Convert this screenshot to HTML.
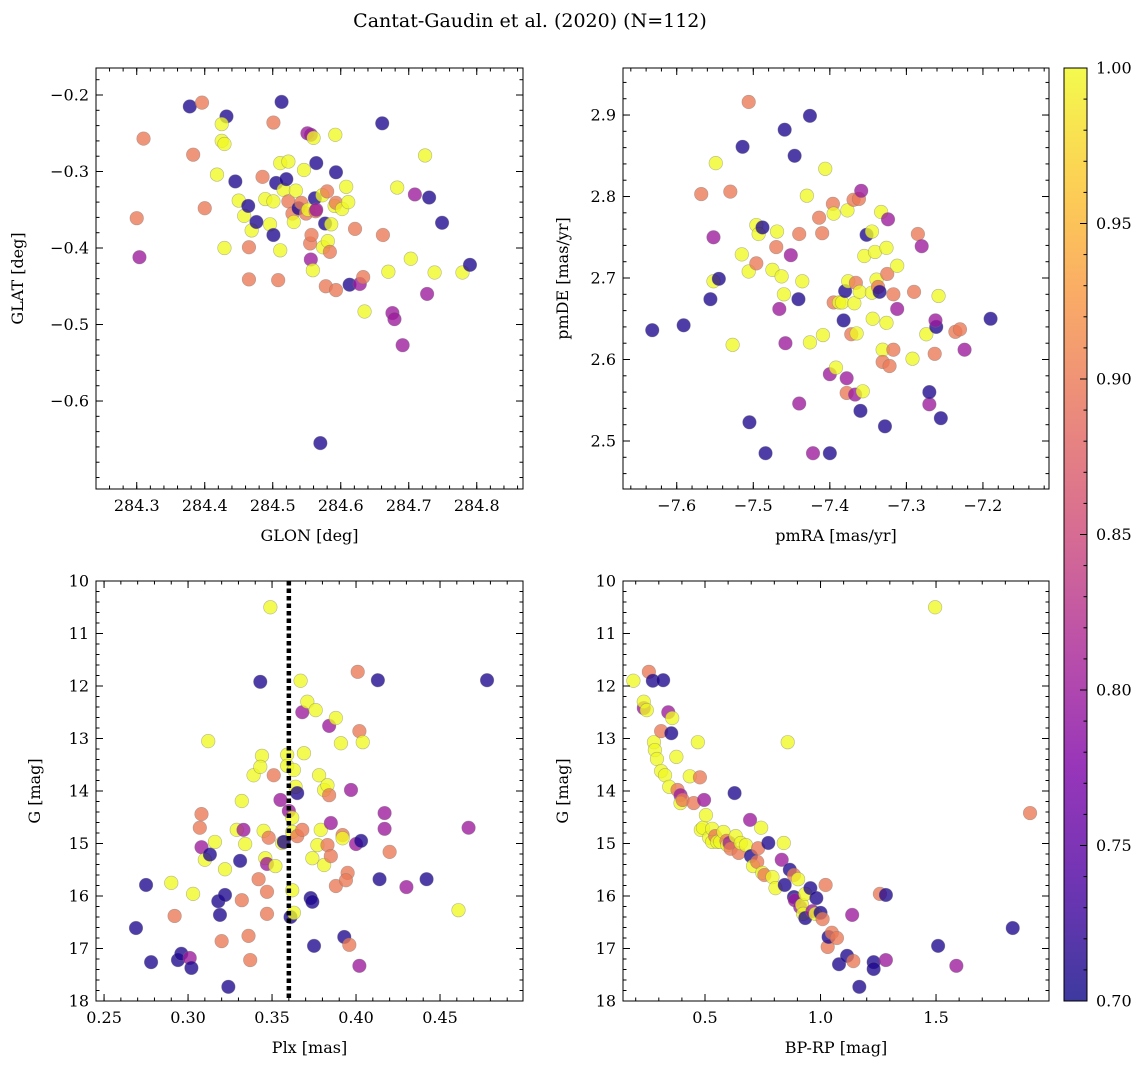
<!DOCTYPE html>
<html><head><meta charset="utf-8">
<style>
body{margin:0;background:#fff;}
svg text{font-family:"DejaVu Serif","Liberation Serif",serif;fill:#000;}
</style></head>
<body>
<svg id="fig" width="1148" height="1068" xmlns="http://www.w3.org/2000/svg">
<text x="530" y="27" font-size="19" text-anchor="middle">Cantat-Gaudin et al. (2020) (N=112)</text>
</svg>
<script>
// Panel 1: GLON / GLAT
const p1Glon=[284.300,284.304,284.310,284.378,284.383,284.396,284.400,284.418,284.425,284.429,284.429,284.432,284.425,284.445,284.450,284.458,284.464,284.465,284.465,284.469,284.476,284.485,284.489,284.496,284.501,284.501,284.501,284.505,284.508,284.511,284.511,284.513,284.516,284.520,284.523,284.523,284.529,284.531,284.534,284.538,284.542,284.546,284.549,284.552,284.555,284.551,284.556,284.556,284.557,284.562,284.563,284.560,284.559,284.564,284.564,284.570,284.573,284.574,284.577,284.578,284.580,284.581,284.584,284.586,284.591,284.592,284.593,284.593,284.593,284.602,284.608,284.611,284.613,284.621,284.628,284.633,284.635,284.662,284.661,284.670,284.676,284.679,284.683,284.691,284.703,284.709,284.724,284.727,284.730,284.738,284.749,284.779,284.790];
const p1Glat=[-0.361,-0.412,-0.257,-0.215,-0.278,-0.210,-0.348,-0.304,-0.260,-0.264,-0.400,-0.228,-0.238,-0.313,-0.338,-0.358,-0.345,-0.441,-0.399,-0.377,-0.366,-0.307,-0.336,-0.369,-0.236,-0.383,-0.339,-0.315,-0.442,-0.289,-0.403,-0.209,-0.324,-0.310,-0.287,-0.339,-0.355,-0.366,-0.325,-0.348,-0.341,-0.298,-0.355,-0.350,-0.394,-0.250,-0.252,-0.415,-0.383,-0.335,-0.352,-0.256,-0.429,-0.350,-0.289,-0.655,-0.331,-0.399,-0.368,-0.450,-0.326,-0.391,-0.405,-0.369,-0.345,-0.252,-0.301,-0.341,-0.455,-0.349,-0.320,-0.340,-0.448,-0.375,-0.447,-0.438,-0.483,-0.383,-0.237,-0.431,-0.485,-0.493,-0.321,-0.527,-0.414,-0.330,-0.279,-0.460,-0.334,-0.432,-0.367,-0.432,-0.422];
const p1Prob=[.9,.8,.9,.71,.9,.9,.9,1,1,1,1,.71,1,.71,1,1,.71,.9,.9,1,.71,.9,1,1,.9,.71,1,.71,.9,1,1,.71,1,.71,1,.9,.9,1,1,.71,.9,1,.9,1,.9,.8,.8,.8,.9,.71,.9,1,1,.8,.71,.71,1,1,.71,.9,.9,1,.9,1,1,1,.71,.9,.9,1,1,1,.71,.9,.8,.9,1,.9,.71,1,.8,.8,1,.8,1,.8,1,.8,.71,1,.71,1,.71];
// Panel 2: pmRA / pmDE
const p2Pmra=[-7.632,-7.591,-7.568,-7.549,-7.552,-7.556,-7.545,-7.552,-7.530,-7.527,-7.514,-7.506,-7.515,-7.506,-7.505,-7.496,-7.493,-7.496,-7.488,-7.484,-7.475,-7.470,-7.469,-7.466,-7.463,-7.460,-7.459,-7.458,-7.451,-7.446,-7.441,-7.440,-7.440,-7.436,-7.430,-7.426,-7.426,-7.422,-7.414,-7.410,-7.409,-7.406,-7.400,-7.400,-7.396,-7.395,-7.395,-7.392,-7.388,-7.384,-7.382,-7.380,-7.378,-7.378,-7.377,-7.376,-7.372,-7.369,-7.368,-7.367,-7.366,-7.365,-7.362,-7.361,-7.360,-7.359,-7.357,-7.355,-7.352,-7.345,-7.345,-7.344,-7.341,-7.339,-7.337,-7.335,-7.333,-7.331,-7.331,-7.328,-7.326,-7.326,-7.325,-7.324,-7.322,-7.317,-7.317,-7.312,-7.312,-7.292,-7.290,-7.285,-7.280,-7.274,-7.270,-7.270,-7.261,-7.263,-7.262,-7.258,-7.255,-7.236,-7.230,-7.224,-7.190];
const p2Pmde=[2.636,2.642,2.803,2.841,2.696,2.674,2.699,2.750,2.806,2.618,2.861,2.916,2.729,2.708,2.523,2.765,2.754,2.718,2.762,2.485,2.710,2.738,2.757,2.662,2.702,2.680,2.882,2.620,2.728,2.850,2.674,2.754,2.546,2.696,2.801,2.899,2.621,2.485,2.774,2.755,2.630,2.834,2.582,2.485,2.791,2.779,2.670,2.590,2.670,2.670,2.648,2.684,2.577,2.559,2.783,2.696,2.631,2.796,2.669,2.557,2.694,2.632,2.797,2.683,2.537,2.807,2.561,2.727,2.753,2.757,2.682,2.650,2.732,2.698,2.689,2.683,2.781,2.612,2.597,2.518,2.737,2.645,2.705,2.772,2.592,2.680,2.612,2.715,2.662,2.601,2.683,2.754,2.739,2.631,2.545,2.560,2.640,2.607,2.648,2.678,2.528,2.634,2.637,2.612,2.650];
const p2Prob=[.71,.71,.9,1,1,.71,.71,.8,.9,1,.71,.9,1,1,.71,1,1,.9,.71,.71,1,.9,1,.8,1,1,.71,.8,.8,.71,.71,.9,.8,1,1,.71,1,.8,.9,.9,1,1,.8,.71,.9,1,.9,1,1,1,.71,.71,.8,.9,1,1,.9,.9,1,.8,.9,1,.9,1,.71,.8,1,1,.71,1,1,1,1,1,.9,.71,1,1,.9,.71,1,1,.9,.8,.9,.9,.9,1,.8,1,.9,.9,.8,1,.8,.71,.71,.9,.8,1,.71,.9,.9,.8,.71];
// Panel 3: Plx / G
const p3Plx=[0.269,0.275,0.278,0.290,0.292,0.294,0.296,0.301,0.302,0.303,0.307,0.308,0.308,0.310,0.312,0.313,0.316,0.318,0.319,0.320,0.322,0.322,0.324,0.329,0.331,0.332,0.332,0.333,0.334,0.336,0.337,0.339,0.342,0.343,0.344,0.343,0.345,0.346,0.347,0.347,0.347,0.348,0.349,0.351,0.352,0.355,0.356,0.357,0.359,0.359,0.360,0.361,0.362,0.362,0.362,0.363,0.363,0.364,0.365,0.365,0.367,0.368,0.368,0.369,0.371,0.373,0.374,0.374,0.375,0.376,0.377,0.378,0.379,0.381,0.381,0.383,0.383,0.384,0.384,0.385,0.385,0.388,0.388,0.391,0.392,0.392,0.393,0.395,0.394,0.396,0.397,0.400,0.401,0.402,0.402,0.403,0.404,0.413,0.414,0.417,0.417,0.420,0.430,0.442,0.461,0.467,0.478];
const p3G=[16.61,15.79,17.26,15.75,16.38,17.22,17.10,17.18,17.37,15.96,14.70,14.44,15.07,15.31,13.05,15.21,14.97,16.10,16.36,16.86,15.49,15.98,17.73,14.74,15.33,14.19,16.08,14.74,15.01,16.76,17.22,13.70,15.68,11.92,13.33,13.54,14.76,15.28,15.92,15.39,16.34,14.89,10.50,13.70,15.43,14.17,14.99,14.97,13.31,13.52,14.38,16.40,15.89,14.78,14.51,16.32,13.60,13.92,14.86,14.04,11.90,12.50,14.74,13.28,12.30,16.04,15.28,16.11,16.95,12.46,15.03,13.70,14.74,13.98,15.41,15.03,13.89,14.08,12.76,14.61,15.24,12.61,15.81,13.09,14.84,14.90,16.78,15.56,15.70,16.93,13.98,15.01,11.73,12.86,17.33,14.95,13.07,11.89,15.68,14.42,14.72,15.16,15.83,15.68,16.27,14.70,11.89];
const p3Prob=[.71,.71,.71,1,.9,.71,.71,.8,.71,1,.9,.9,.8,1,1,.71,1,.71,.71,.9,1,.71,.71,1,.71,1,.9,.8,1,.9,.9,1,.9,.71,1,1,1,1,.9,.8,.9,.9,1,.9,1,.8,1,.71,1,1,.8,.71,1,1,1,1,1,1,.9,.71,1,.8,.9,1,1,.71,1,.71,.71,1,1,1,1,1,1,.9,1,.9,.8,.8,.9,1,.9,1,.9,1,.71,.9,.9,.9,.8,.8,.9,.9,.8,.71,1,.71,.71,.8,.8,.9,.8,.71,1,.8,.71];
const p3Cut=0.360;
// Panel 4: BP-RP / G
const p4Bprp=[0.190,0.235,0.235,0.248,0.257,0.274,0.279,0.283,0.292,0.310,0.310,0.319,0.327,0.341,0.345,0.354,0.358,0.376,0.381,0.394,0.394,0.403,0.434,0.451,0.469,0.478,0.482,0.491,0.496,0.504,0.518,0.531,0.531,0.544,0.553,0.566,0.580,0.593,0.597,0.606,0.611,0.628,0.633,0.646,0.655,0.677,0.695,0.699,0.708,0.726,0.730,0.743,0.748,0.757,0.774,0.792,0.805,0.832,0.841,0.845,0.858,0.867,0.885,0.885,0.889,0.903,0.912,0.920,0.925,0.934,0.934,0.956,0.965,0.978,0.982,1.000,1.009,1.022,1.031,1.035,1.049,1.071,1.080,1.115,1.137,1.142,1.168,1.230,1.230,1.257,1.283,1.283,1.496,1.509,1.588,1.832,1.907];
const p4G=[11.90,12.42,12.30,12.46,11.73,11.90,13.07,13.22,13.39,13.62,12.86,11.89,13.70,12.50,13.92,12.90,12.61,13.35,13.98,14.08,14.23,14.17,13.72,14.23,13.07,13.74,14.74,14.70,14.17,14.46,14.89,14.72,14.97,14.86,14.97,14.97,14.78,14.95,15.03,14.99,15.10,14.04,14.86,15.18,14.99,15.03,14.55,15.24,15.43,15.35,15.09,14.70,15.56,15.60,14.99,15.64,15.85,15.31,14.99,15.79,13.07,15.50,15.60,16.02,16.08,15.68,16.21,16.17,16.34,16.42,15.96,15.85,16.29,16.34,16.04,16.32,16.44,15.79,16.97,16.78,16.70,16.80,17.30,17.14,16.36,17.24,17.73,17.26,17.39,15.96,15.98,17.22,10.50,16.95,17.33,16.61,14.42];
const p4Prob=[1,.8,1,1,.9,.71,1,1,1,1,.9,.71,1,.8,1,.71,1,1,.9,.8,1,.9,1,.9,1,.9,1,1,.8,1,1,1,1,.9,1,1,1,.9,1,.8,.9,.71,1,.9,1,1,.8,.71,1,.9,.9,1,1,.9,.71,1,1,.8,1,.71,1,.71,.9,.71,.8,1,.8,1,1,.71,1,.71,.8,1,.71,.71,.9,.9,.9,.71,.9,.9,.71,.71,.8,.9,.71,.71,.71,.9,.71,.8,1,.71,.8,.71,.9];
const cbTicks=[0.70,0.75,0.80,0.85,0.90,0.95,1.00];

const NS='http://www.w3.org/2000/svg';
const svg=document.getElementById('fig');
function mk(tag,attrs,parent){const e=document.createElementNS(NS,tag);for(const k in attrs)e.setAttribute(k,attrs[k]);(parent||svg).appendChild(e);return e;}
const stops=[[0,13,8,135],[.125,76,2,161],[.25,126,3,168],[.375,169,35,149],[.5,204,71,120],[.625,229,107,93],[.75,248,148,65],[.875,253,195,40],[1,240,249,33]];
function plasma(t){t=Math.max(0,Math.min(1,t));for(let i=1;i<stops.length;i++){if(t<=stops[i][0]){const a=stops[i-1],b=stops[i],f=(t-a[0])/(b[0]-a[0]);return `rgb(${[1,2,3].map(j=>Math.round(a[j]+f*(b[j]-a[j]))).join(',')})`;}}return 'rgb(240,249,33)';}
const cnorm=v=>(v-0.7)/0.3;

function panel(cfg){
  const {name,x0,y0,x1,y1,xd,yd,xt,yt,xfmt,yfmt,xminor,yminor,xlab,ylab,ylabX,invY}=cfg;
  const sx=v=>x0+(v-xd[0])/(xd[1]-xd[0])*(x1-x0);
  const sy=v=>invY? y0+(v-yd[0])/(yd[1]-yd[0])*(y1-y0) : y1-(v-yd[0])/(yd[1]-yd[0])*(y1-y0);
  const g=mk('g',{});
  
  
  const cp=mk('clipPath',{id:name+'-clip'},g);mk('rect',{x:x0,y:y0,width:x1-x0,height:y1-y0},cp);
  const pts=mk('g',{'clip-path':`url(#${name}-clip)`},g);
  
  
  for(let i=0;i<cfg.xs.length;i++){
    const c=mk('circle',{cx:sx(cfg.xs[i]),cy:sy(cfg.ys[i]),r:6.8,fill:plasma(cnorm(cfg.cs[i])),'fill-opacity':0.78,stroke:'#777','stroke-opacity':0.5,'stroke-width':0.6},pts);
    
    
  }
  if(cfg.vline!==undefined){
    const l=mk('line',{x1:sx(cfg.vline),x2:sx(cfg.vline),y1:y0,y2:y1,stroke:'#000','stroke-width':4.5,'stroke-dasharray':'4.5 3'},g);
    
    
  }
  const ax=mk('g',{stroke:'#000','stroke-width':1},g);
  
  
  mk('rect',{x:x0,y:y0,width:x1-x0,height:y1-y0,fill:'none'},ax);
  const inX=v=>v>=Math.min(xd[0],xd[1])-1e-9&&v<=Math.max(xd[0],xd[1])+1e-9;
  const inY=v=>v>=Math.min(yd[0],yd[1])-1e-9&&v<=Math.max(yd[0],yd[1])+1e-9;
  const s0=Math.ceil(xd[0]/xminor),s1=Math.floor(xd[1]/xminor);
  for(let k=s0;k<=s1;k++){const v=k*xminor,X=sx(v);mk('line',{x1:X,x2:X,y1:y1,y2:y1-3.5},ax);mk('line',{x1:X,x2:X,y1:y0,y2:y0+3.5},ax);}
  const t0=Math.ceil(Math.min(yd[0],yd[1])/yminor),t1=Math.floor(Math.max(yd[0],yd[1])/yminor);
  for(let k=t0;k<=t1;k++){const Y=sy(k*yminor);mk('line',{x1:x0,x2:x0+3.5,y1:Y,y2:Y},ax);mk('line',{x1:x1,x2:x1-3.5,y1:Y,y2:Y},ax);}
  xt.forEach(v=>{if(!inX(v))return;const X=sx(v);mk('line',{x1:X,x2:X,y1:y1,y2:y1-7},ax);mk('line',{x1:X,x2:X,y1:y0,y2:y0+7},ax);
    const t=mk('text',{x:X,y:y1+22,'font-size':16,'text-anchor':'middle',stroke:'none'},g);t.textContent=xfmt(v);
    
    });
  yt.forEach(v=>{if(!inY(v))return;const Y=sy(v);mk('line',{x1:x0,x2:x0+7,y1:Y,y2:Y},ax);mk('line',{x1:x1,x2:x1-7,y1:Y,y2:Y},ax);
    const t=mk('text',{x:x0-7,y:Y+5.5,'font-size':16,'text-anchor':'end',stroke:'none'},g);t.textContent=yfmt(v);
    
    });
  const xl=mk('text',{x:(x0+x1)/2,y:y1+52,'font-size':16,'text-anchor':'middle'},g);xl.textContent=xlab;
  
  
  const yc=(y0+y1)/2;
  const yl=mk('text',{x:ylabX,y:yc,'font-size':16,'text-anchor':'middle',transform:`rotate(-90 ${ylabX} ${yc})`},g);yl.textContent=ylab;
  
  
}
const f1=v=>v.toFixed(1), f2=v=>v.toFixed(2), fi=v=>v.toFixed(0), fm=v=>(v<0?'\u2212':'')+Math.abs(v).toFixed(1);
panel({name:'glon-glat',x0:96,y0:68,x1:523,y1:489,xd:[284.2401,284.868],yd:[-0.715,-0.1647],xt:[284.3,284.4,284.5,284.6,284.7,284.8],yt:[-0.6,-0.5,-0.4,-0.3,-0.2],xfmt:f1,yfmt:fm,xminor:0.02,yminor:0.02,xlab:'GLON [deg]',ylab:'GLAT [deg]',ylabX:23,xs:p1Glon,ys:p1Glat,cs:p1Prob});
panel({name:'proper-motion',x0:623,y0:68,x1:1049,y1:489,xd:[-7.6702,-7.1137],yd:[2.4411,2.9577],xt:[-7.6,-7.5,-7.4,-7.3,-7.2],yt:[2.5,2.6,2.7,2.8,2.9],xfmt:fm,yfmt:f1,xminor:0.02,yminor:0.02,xlab:'pmRA [mas/yr]',ylab:'pmDE [mas/yr]',ylabX:568,xs:p2Pmra,ys:p2Pmde,cs:p2Prob});
panel({name:'parallax-mag',x0:96,y0:581,x1:523,y1:1001,xd:[0.2452,0.4994],yd:[10,18],invY:true,xt:[0.25,0.30,0.35,0.40,0.45],yt:[10,11,12,13,14,15,16,17,18],xfmt:f2,yfmt:fi,xminor:0.01,yminor:0.2,xlab:'Plx [mas]',ylab:'G [mag]',ylabX:40,xs:p3Plx,ys:p3G,cs:p3Prob,vline:p3Cut});
panel({name:'cmd',x0:623,y0:581,x1:1049,y1:1001,xd:[0.145,1.989],yd:[10,18],invY:true,xt:[0.5,1.0,1.5],yt:[10,11,12,13,14,15,16,17,18],xfmt:f1,yfmt:fi,xminor:0.1,yminor:0.2,xlab:'BP-RP [mag]',ylab:'G [mag]',ylabX:568,xs:p4Bprp,ys:p4G,cs:p4Prob});

// colorbar
const cb=mk('g',{});


const defs=mk('defs',{},cb);
const lg=mk('linearGradient',{id:'cbg',x1:0,y1:1,x2:0,y2:0},defs);
for(let i=0;i<=20;i++){mk('stop',{offset:i/20,'stop-color':plasma(i/20),'stop-opacity':0.8},lg);}
const CX0=1064,CX1=1087,CY0=68,CY1=1001;
mk('rect',{x:CX0,y:CY0,width:CX1-CX0,height:CY1-CY0,fill:'url(#cbg)',stroke:'#000','stroke-width':1},cb);
const cy=v=>CY1-(v-0.7)/0.3*(CY1-CY0);
for(let k=70;k<=100;k++){const Y=cy(k/100);mk('line',{x1:CX1,x2:CX1-3.5,y1:Y,y2:Y,stroke:'#000'},cb);}
cbTicks.forEach(v=>{const Y=cy(v);mk('line',{x1:CX1,x2:CX1-7,y1:Y,y2:Y,stroke:'#000'},cb);
  const t=mk('text',{x:CX1+9,y:Y+5.5,'font-size':16},cb);t.textContent=v.toFixed(2);
  
  });
</script>
</body></html>
